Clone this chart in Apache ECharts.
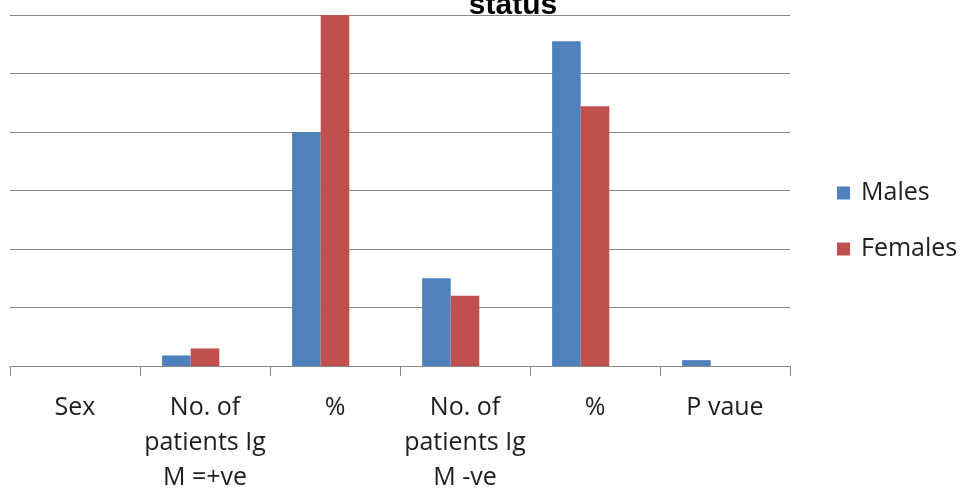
<!DOCTYPE html>
<html>
<head>
<meta charset="utf-8">
<script src="https://cdn.jsdelivr.net/npm/echarts@6/dist/echarts.min.js"></script>
<style>
  html, body { margin: 0; padding: 0; background: #fff; }
  #chart { width: 963px; height: 489px; }
</style>
</head>
<body>
<div id="chart"></div>
<script>
// Categories along the x axis
const categories = ['Sex', 'No. of\npatients Ig\nM =+ve', '%', 'No. of\npatients Ig\nM -ve', '%', 'P vaue'];
// Series values (Sex column has no bars)
const males = [null, 1.8, 40, 15, 55.5, 1];
const females = [null, 3, 60, 12, 44.4, null];
// Third, empty column slot kept in each group
const spare = [null, null, null, null, null, null];
const seriesNames = ['Males', 'Females'];
const titleText = 'status';

const FONT = '"Open Sans", "Liberation Sans", sans-serif';
const chart = echarts.init(document.getElementById('chart'));

chart.setOption({
  animation: false,
  backgroundColor: '#ffffff',
  color: ['#4F81BD', '#C0504D', '#9BBB59'],
  graphic: [{
    type: 'text',
    x: 513,
    y: 21,
    style: {
      text: titleText,
      font: 'bold 30px "Liberation Sans", sans-serif',
      fill: '#000',
      align: 'center',
      verticalAlign: 'bottom'
    }
  }],
  legend: {
    orient: 'vertical',
    left: 832,
    top: 172,
    itemWidth: 13,
    itemHeight: 13,
    itemGap: 24,
    icon: 'rect',
    data: seriesNames,
    textStyle: { fontFamily: FONT, fontSize: 25, color: '#1e1e1e', lineHeight: 32, padding: [0, 0, 0, 6] }
  },
  grid: { left: 10, right: 173, top: 15, bottom: 123, outerBoundsMode: 'none', containLabel: false },
  xAxis: {
    type: 'category',
    data: categories,
    axisLine: { lineStyle: { color: '#888888', width: 1 } },
    axisTick: { show: true, length: 10, lineStyle: { color: '#888888' } },
    axisLabel: {
      interval: 0,
      margin: 24,
      fontFamily: FONT,
      fontSize: 25,
      lineHeight: 35,
      color: '#1e1e1e'
    }
  },
  yAxis: {
    type: 'value',
    min: 0,
    max: 60,
    interval: 10,
    axisLine: { show: false },
    axisTick: { show: false },
    axisLabel: { show: false },
    splitLine: { lineStyle: { color: '#888888', width: 1 } }
  },
  series: [
    { name: seriesNames[0], type: 'bar', data: males, barGap: '0%', barCategoryGap: '34%' },
    { name: seriesNames[1], type: 'bar', data: females, barGap: '0%', barCategoryGap: '34%' },
    { name: 'spare', type: 'bar', data: spare, barGap: '0%', barCategoryGap: '34%' }
  ]
});
</script>
</body>
</html>
